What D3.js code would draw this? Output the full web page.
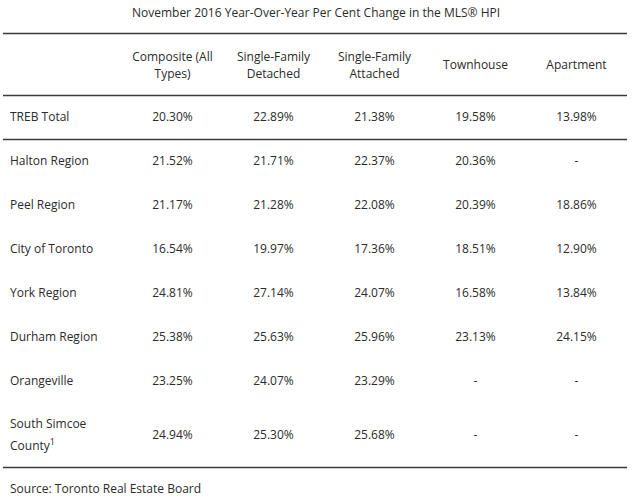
<!DOCTYPE html>
<html>
<head>
<meta charset="utf-8">
<script src="https://cdn.jsdelivr.net/npm/d3@7"></script>
<style>
  body { margin: 0; background: #fff; }
  text { font-family: "Open Sans", sans-serif; font-size: 12px; fill: #2b2b2b; }
</style>
</head>
<body>
<div id="chart"></div>
<script>
const title = 'November 2016 Year-Over-Year Per Cent Change in the MLS® HPI';
const source = 'Source: Toronto Real Estate Board';

const columns = [
    ['Composite (All', 'Types)'],
    ['Single-Family', 'Detached'],
    ['Single-Family', 'Attached'],
    ['Townhouse'],
    ['Apartment']
];

const regions = [
    ['TREB Total'],
    ['Halton Region'],
    ['Peel Region'],
    ['City of Toronto'],
    ['York Region'],
    ['Durham Region'],
    ['Orangeville'],
    ['South Simcoe', 'County']
];

const composite = ['20.30%', '21.52%', '21.17%', '16.54%', '24.81%', '25.38%', '23.25%', '24.94%'];
const detached = ['22.89%', '21.71%', '21.28%', '19.97%', '27.14%', '25.63%', '24.07%', '25.30%'];
const attached = ['21.38%', '22.37%', '22.08%', '17.36%', '24.07%', '25.96%', '23.29%', '25.68%'];
const townhouse = ['19.58%', '20.36%', '20.39%', '18.51%', '16.58%', '23.13%', '-', '-'];
const apartment = ['13.98%', '-', '18.86%', '12.90%', '13.84%', '24.15%', '-', '-'];

const seriesList = [composite, detached, attached, townhouse, apartment];

const width = 640, height = 499;
const svg = d3.select('#chart').append('svg')
    .attr('width', width)
    .attr('height', height);

// columns
let x = d3.scaleBand()
    .domain(d3.range(columns.length))
    .range([122, 627]);

// rows: each row is 44px plus 20px per extra line
const rowUnit = 44, lineStep = 20;
let rowTops = [];
let acc = 95;
regions.forEach(function(r) {
    rowTops.push(acc);
    acc += rowUnit + (r.length - 1) * lineStep;
});
const tableBottom = acc;
let rowH = function(i) {return rowUnit + (regions[i].length - 1) * lineStep};

// title
svg.append('text')
    .attr('x', 316)
    .attr('y', 13)
    .attr('dy', '0.35em')
    .attr('text-anchor', 'middle')
    .text(title);

// rules
const rules = [33, 95, rowTops[1], tableBottom];
svg.selectAll('.rule')
    .data(rules)
    .enter()
    .append('line')
    .attr('class', 'rule')
    .attr('x1', 3)
    .attr('x2', 627)
    .attr('y1', function(d) {return d + 0.5})
    .attr('y2', function(d) {return d + 0.5})
    .style('stroke', '#3a3a3a')
    .style('stroke-width', 1.6);

// header
const headerMid = 65;
let headers = svg.selectAll('.head')
    .data(columns)
    .enter()
    .append('text')
    .attr('class', 'head')
    .attr('text-anchor', 'middle')
    .attr('x', function(d, i) {return x(i) + x.bandwidth() / 2});

headers.selectAll('tspan')
    .data(function(d) {return d.map(function(t, j) {return {t: t, j: j, n: d.length}})})
    .enter()
    .append('tspan')
    .attr('x', function() {return this.parentNode.getAttribute('x')})
    .attr('y', function(d) {return headerMid + (d.j - (d.n - 1) / 2) * 17})
    .attr('dy', '0.35em')
    .text(function(d) {return d.t});

// row labels
let labels = svg.selectAll('.rowlabel')
    .data(regions)
    .enter()
    .append('text')
    .attr('class', 'rowlabel')
    .attr('x', 10);

labels.selectAll('tspan')
    .data(function(d, i) {return d.map(function(t, j) {return {t: t, j: j, n: d.length, row: i}})})
    .enter()
    .append('tspan')
    .attr('x', 10)
    .attr('y', function(d) {return rowTops[d.row] + rowH(d.row) / 2 + (d.j - (d.n - 1) / 2) * 22})
    .attr('dy', '0.35em')
    .text(function(d) {return d.t});

// footnote marker on South Simcoe County
labels.filter(function(d) {return d[d.length - 1] === 'County'})
    .append('tspan')
    .attr('dy', '-0.6em')
    .style('font-size', '9px')
    .text('1');

// values
seriesList.forEach(function(series, c) {
    svg.selectAll('.val' + c)
        .data(series)
        .enter()
        .append('text')
        .attr('class', 'val' + c)
        .attr('text-anchor', 'middle')
        .attr('x', x(c) + x.bandwidth() / 2)
        .attr('y', function(d, i) {return rowTops[i] + rowH(i) / 2})
        .attr('dy', '0.35em')
        .text(function(d) {return d});
});

// source
svg.append('text')
    .attr('x', 10)
    .attr('y', 489)
    .attr('dy', '0.35em')
    .text(source);
</script>
</body>
</html>
